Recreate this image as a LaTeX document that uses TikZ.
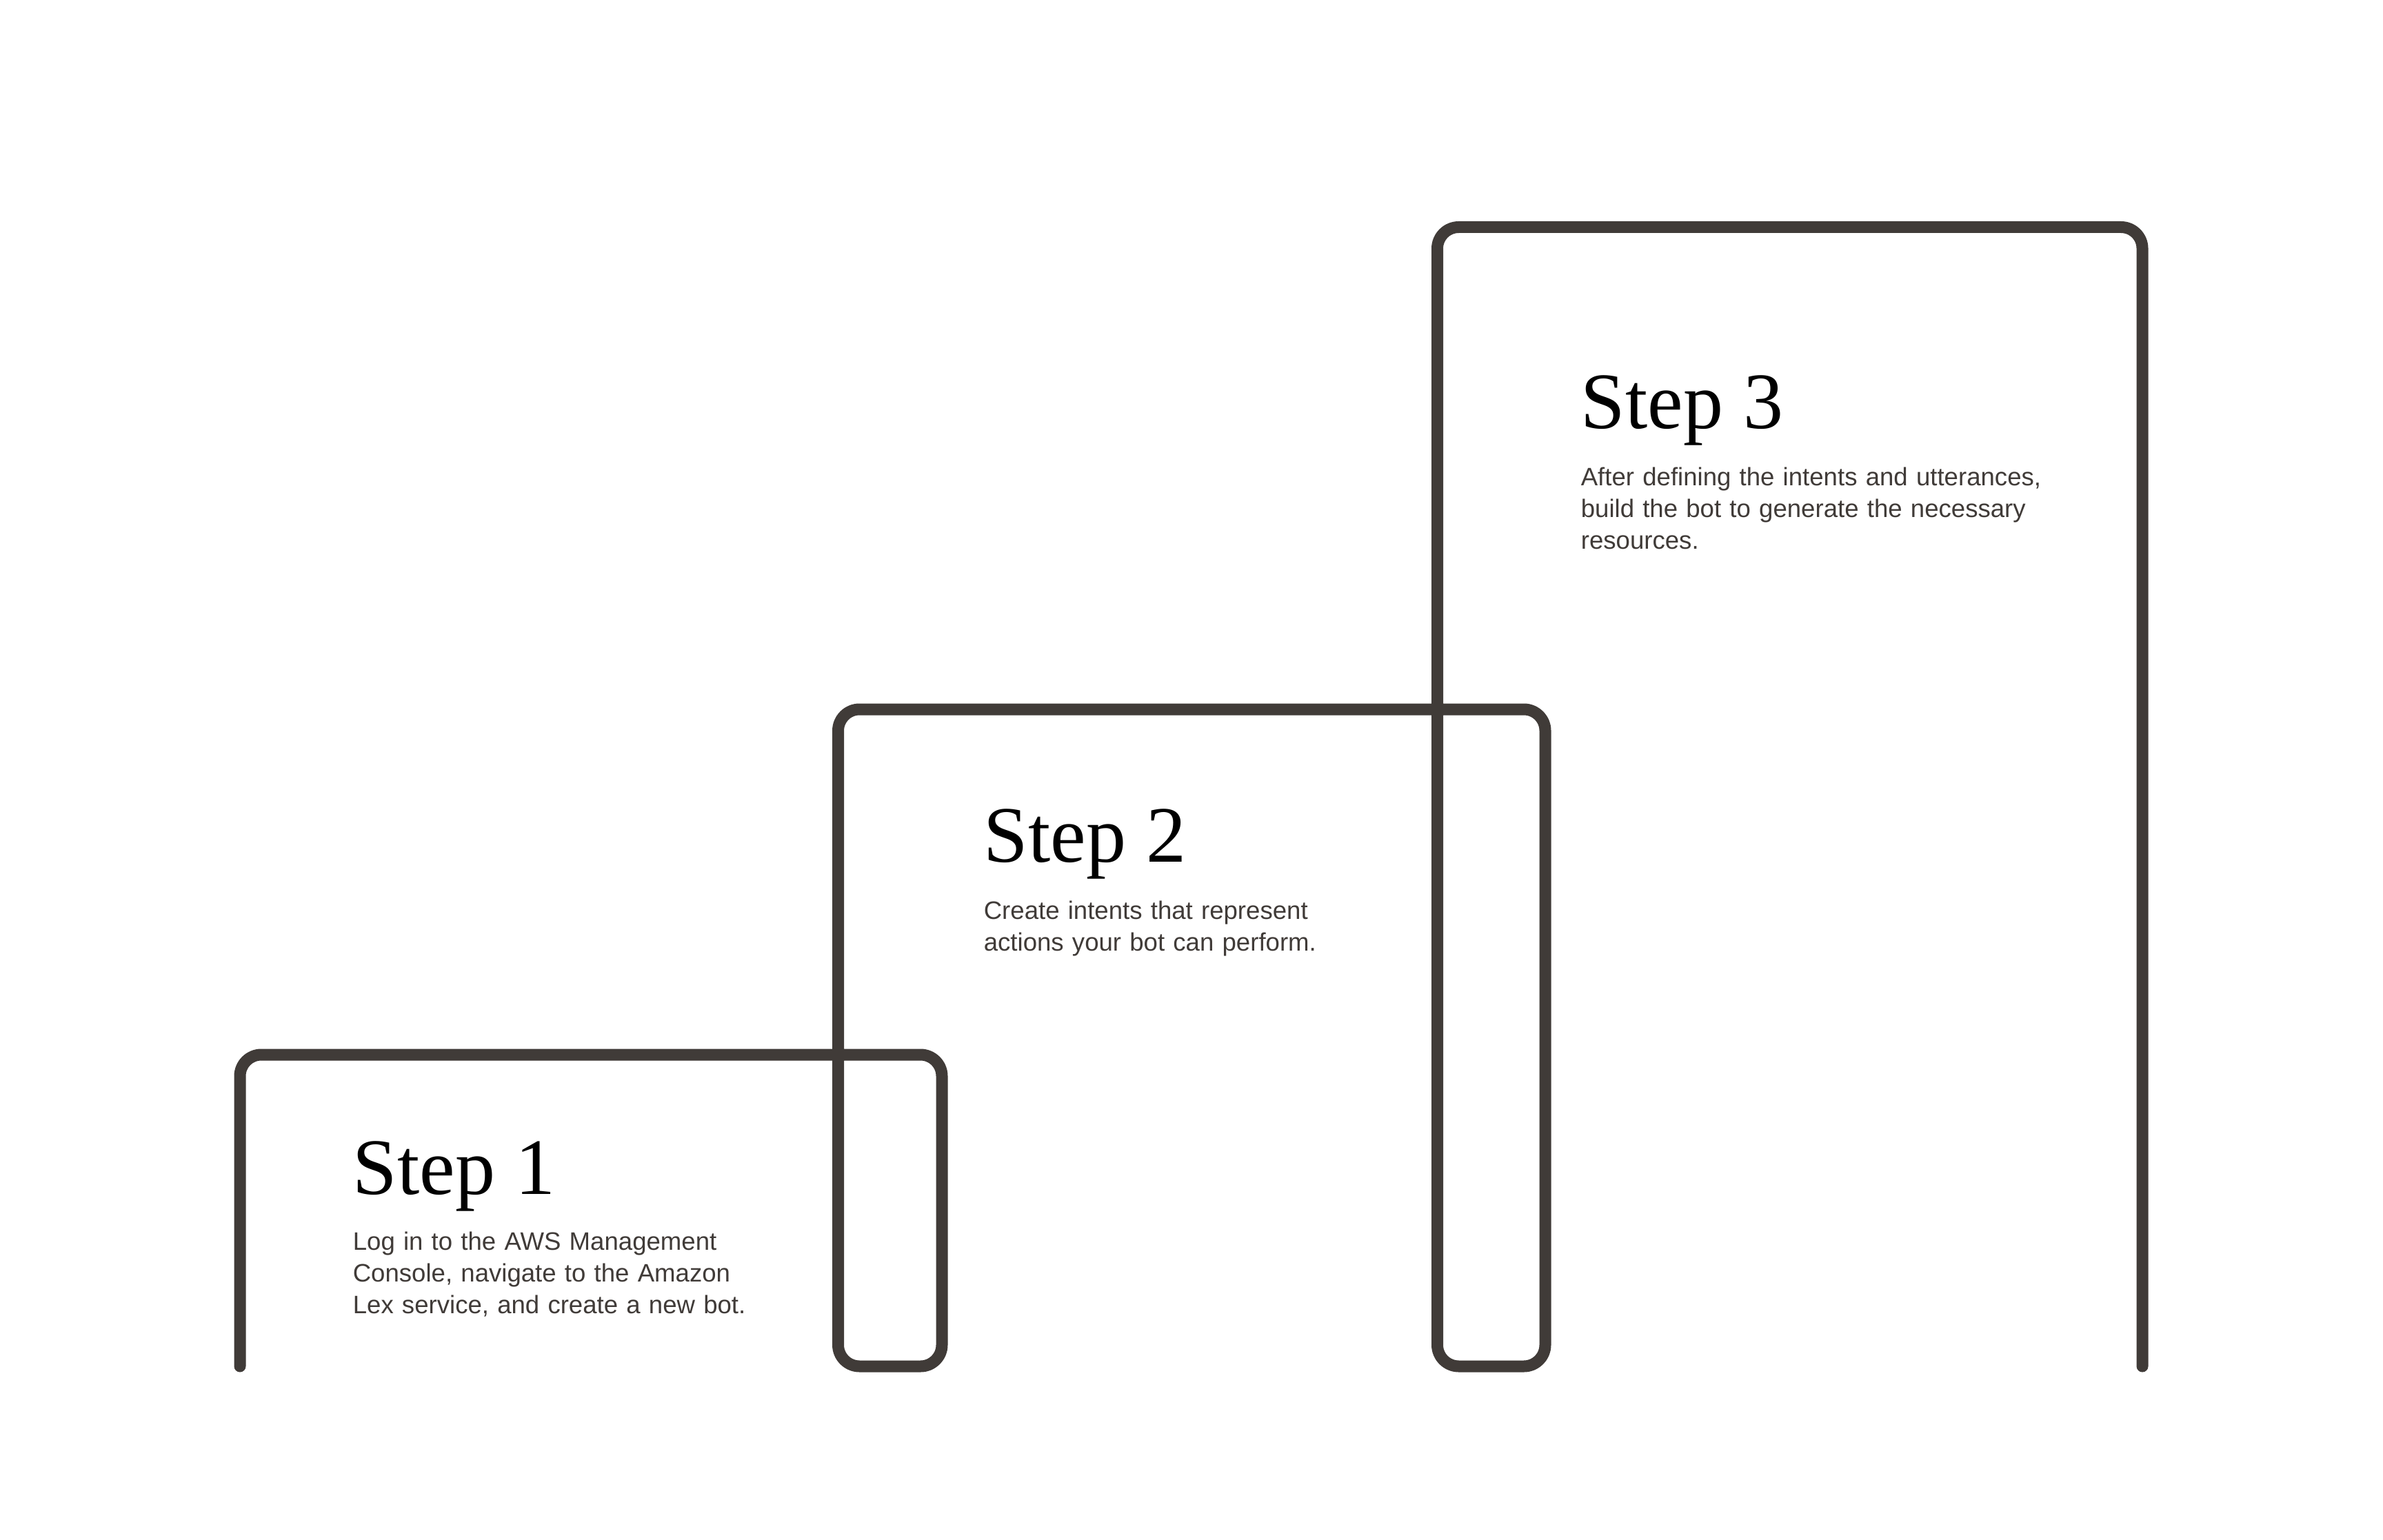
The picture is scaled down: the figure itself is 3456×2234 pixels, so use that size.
\documentclass[tikz,border=0pt]{standalone}
\usepackage{fontspec}
\setmainfont{Liberation Serif}
\newfontfamily\bodyfont{Liberation Sans}
\definecolor{ink}{HTML}{403B38}
\begin{document}
\begin{tikzpicture}[x=0.25pt,y=-0.25pt,
  frame/.style={draw=ink,line width=4.25pt,line cap=round,line join=round,rounded corners=7.75pt},
  steptitle/.style={anchor=base west,inner sep=0pt,font=\fontsize{29pt}{34pt}\selectfont,text=black},
  stepbody/.style={anchor=base west,inner sep=0pt,text width=300pt,align=left,
     font=\bodyfont\fontsize{9.15pt}{11.5pt}\selectfont,text=ink}]
\useasboundingbox[fill=white] (0,0) rectangle (3456,2234);
% path points
\coordinate (s1end) at (348,1982);
\coordinate (s1tl) at (348,1530);
\coordinate (s1tr) at (1366,1530);
\coordinate (s1br) at (1366,1982);
\coordinate (s2bl) at (1215.5,1982);
\coordinate (s2tl) at (1215.5,1029);
\coordinate (s2tr) at (2241,1029);
\coordinate (s2br) at (2241,1982);
\coordinate (s3bl) at (2084.5,1982);
\coordinate (s3tl) at (2084.5,329.5);
\coordinate (s3tr) at (3107,329.5);
\coordinate (s3end) at (3107,1982);
\draw[frame] (s1end) -- (s1tl) -- (s1tr) -- (s1br) -- (s2bl) -- (s2tl) -- (s2tr) -- (s2br) -- (s3bl) -- (s3tl) -- (s3tr) -- (s3end);
% texts
\node[steptitle] (t1) at (511,1732) {Step 1};
\node[stepbody] (b1) at (511,1813) {Log in to the AWS Management\\Console, navigate to the Amazon\\Lex service, and create a new bot.};
\node[steptitle] (t2) at (1426,1250) {Step 2};
\node[stepbody] (b2) at (1426,1333) {Create intents that represent\\actions your bot can perform.};
\node[steptitle] (t3) at (2292,622) {Step 3};
\node[stepbody] (b3) at (2292,705) {After defining the intents and utterances,\\build the bot to generate the necessary\\resources.};
\end{tikzpicture}
\end{document}
